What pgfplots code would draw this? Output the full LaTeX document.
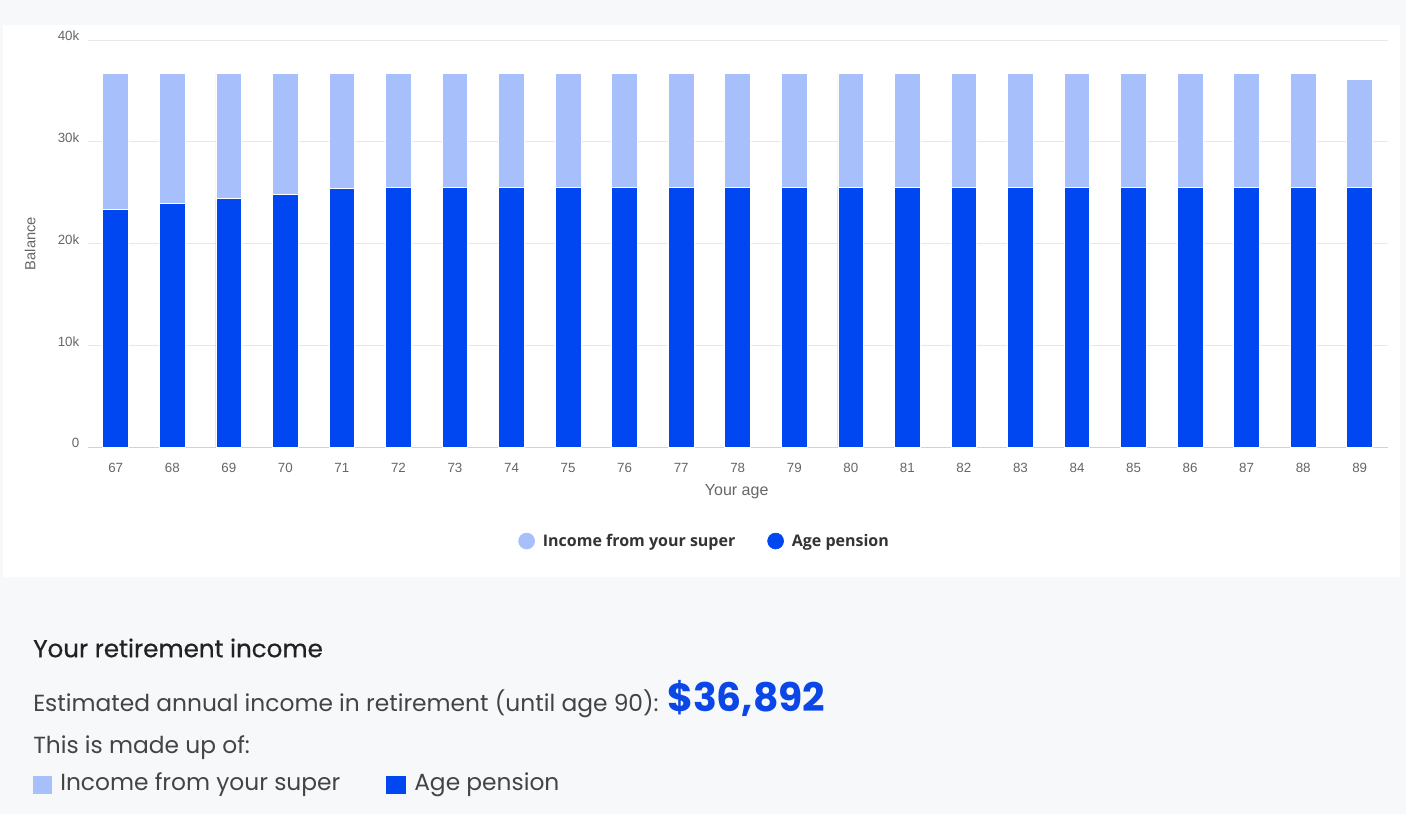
\documentclass[border=0pt]{standalone}
\usepackage{pgfplots}
\usepackage{pgfplotstable}
\pgfplotsset{compat=1.18}
\usepackage{fontspec}
\setmainfont{Liberation Sans}
\newfontfamily\pop{Poppins}
\newfontfamily\popm[FakeBold=0.6]{Poppins}
\newfontfamily\legfont{Open Sans}

\definecolor{superc}{HTML}{A7BFFA}
\definecolor{pensc}{HTML}{0047F2}
\definecolor{bgc}{HTML}{F7F8FA}
\definecolor{gridc}{HTML}{E8E8E8}
\definecolor{axisc}{HTML}{C9D3E3}
\definecolor{tickc}{HTML}{666666}
\definecolor{legc}{HTML}{333333}
\definecolor{headc}{HTML}{222222}
\definecolor{bodyc}{HTML}{444444}
\definecolor{bigc}{HTML}{0A47E6}

% annual income by age, in dollars
\pgfplotstableread{
age pension super
67 23380 13320
68 23930 12770
69 24420 12280
70 24850 11850
71 25370 11330
72 25540 11160
73 25540 11160
74 25540 11160
75 25540 11160
76 25540 11160
77 25540 11160
78 25540 11160
79 25540 11160
80 25540 11160
81 25540 11160
82 25540 11160
83 25540 11160
84 25540 11160
85 25540 11160
86 25540 11160
87 25540 11160
88 25540 11160
89 25540 10610
}\incometable

\begin{document}
\begin{tikzpicture}
\begin{scope}[x=0.75pt,y=-0.75pt]
  \useasboundingbox (0,0) rectangle (1406,814);
  \fill[bgc] (0,0) rectangle (1406,814);
  \fill[white] (3,25) rectangle (1400,577);
\end{scope}

\begin{axis}[
    at={(66pt,-335.25pt)}, anchor=south west,
    scale only axis,
    width=975pt, height=305.25pt,
    ybar stacked,
    bar width=19.3pt,
    xmin=66.51, xmax=89.5,
    ymin=0, ymax=40000,
    xtick={67,...,89},
    ytick={0,10000,20000,30000,40000},
    yticklabels={0,10k,20k,30k,40k},
    scaled y ticks=false,
    /pgf/number format/assume math mode=true,
    /pgf/number format/1000 sep={},
    axis x line=bottom,
    axis y line=left,
    y axis line style={draw=none},
    x axis line style={color=axisc, line width=0.75pt, -},
    major tick length=0pt,
    ymajorgrids,
    grid style={gridc, line width=0.75pt},
    ticklabel style={font=\fontsize{10}{11}\selectfont, text=tickc},
    xticklabel style={yshift=-8.5pt},
    yticklabel style={xshift=-3pt, yshift=3pt},
    xlabel={Your age},
    ylabel={Balance},
    label style={font=\fontsize{12}{14}\selectfont, text=tickc},
    xlabel style={at={(axis description cs:0.499,-0.1106)}, anchor=center},
    ylabel style={at={(axis description cs:-0.0446,0.5)}, anchor=center, font=\fontsize{11}{12}\selectfont},
    legend style={at={(axis description cs:0.4746,-0.231)}, anchor=center,
        draw=none, fill=none, legend columns=2,
        font=\legfont\bfseries\fontsize{12}{14}\selectfont, text=legc,
        /tikz/every odd column/.append style={column sep=4pt},
        /tikz/every even column/.append style={column sep=22pt}},
    legend cell align=left,
]
\addlegendimage{legend image code/.code={\fill[superc] (4pt,0) circle (6pt);}}
\addlegendentry{Income from your super}
\addlegendimage{legend image code/.code={\fill[pensc] (4pt,0) circle (6pt);}}
\addlegendentry{Age pension}

\addplot[fill=pensc, draw=white, line width=0.6pt, forget plot]
    table[x=age, y=pension] {\incometable};
\addplot[fill=superc, draw=white, line width=0.6pt, forget plot]
    table[x=age, y=super] {\incometable};
\end{axis}

\begin{scope}[x=0.75pt,y=-0.75pt]
  \node[anchor=west, inner sep=0pt, font=\popm\fontsize{18.4}{21}\selectfont, text=headc]
    at (33,648) {Your retirement income};
  \node[anchor=west, inner sep=0pt, font=\pop\fontsize{17.5}{20}\selectfont, text=bodyc]
    (est) at (33,704) {Estimated annual income in retirement (until age 90):};
  \node[anchor=base west, inner sep=0pt, xshift=6pt, font=\pop\bfseries\fontsize{29.5}{32}\selectfont, text=bigc]
    at (est.base east) {\$36,892};
  \node[anchor=west, inner sep=0pt, font=\pop\fontsize{17.5}{20}\selectfont, text=bodyc]
    at (33,748) {This is made up of:};
  \fill[superc] (33,776) rectangle (52,794);
  \node[anchor=west, inner sep=0pt, font=\pop\fontsize{17.5}{20}\selectfont, text=bodyc]
    at (60,785) {Income from your super};
  \fill[pensc] (386,776) rectangle (406,794);
  \node[anchor=west, inner sep=0pt, font=\pop\fontsize{17.5}{20}\selectfont, text=bodyc]
    at (414,785) {Age pension};
\end{scope}
\end{tikzpicture}
\end{document}
